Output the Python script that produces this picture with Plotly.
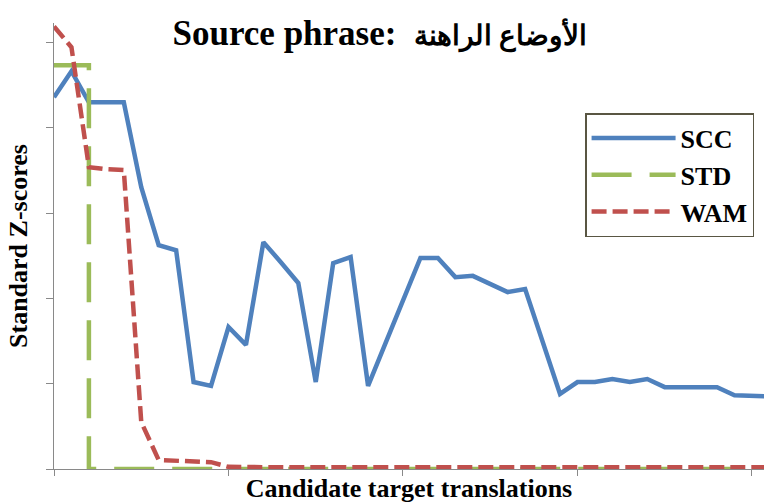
import plotly.graph_objects as go

# Candidate index on the category axis
candidates = list(range(42))

# Standard Z-scores per method
scc = [0.872, 0.933, 0.860, 0.860, 0.860, 0.661, 0.525, 0.513, 0.204, 0.195,
       0.333, 0.291, 0.532, 0.485, 0.436, 0.204, 0.483, 0.497, 0.195, 0.295,
       0.396, 0.495, 0.495, 0.450, 0.453, 0.434, 0.415, 0.422, 0.298, 0.176,
       0.204, 0.204, 0.211, 0.204, 0.211, 0.192, 0.192, 0.192, 0.192, 0.173,
       0.171, 0.170]
std = [0.947, 0.947, 0.947, 0.0, 0.0, 0.0, 0.0, 0.0, 0.0, 0.0,
       0.0, 0.0, 0.0, 0.0, 0.0, 0.0, 0.0, 0.0, 0.0, 0.0,
       0.0, 0.0, 0.0, 0.0, 0.0, 0.0, 0.0, 0.0, 0.0, 0.0,
       0.0, 0.0, 0.0, 0.0, 0.0, 0.0, 0.0, 0.0, 0.0, 0.0,
       0.0, 0.0]
wam = [1.038, 0.989, 0.708, 0.703, 0.701, 0.110, 0.021, 0.019, 0.019, 0.016,
       0.005, 0.004, 0.004, 0.004, 0.004, 0.004, 0.004, 0.004, 0.004, 0.004,
       0.004, 0.004, 0.004, 0.004, 0.004, 0.004, 0.004, 0.004, 0.004, 0.004,
       0.004, 0.004, 0.004, 0.004, 0.004, 0.004, 0.004, 0.004, 0.004, 0.004,
       0.004, 0.004]

x_ticks = [0, 10, 20, 30, 40]
y_ticks = [0.0, 0.2, 0.4, 0.6, 0.8, 1.0]

SERIF = "Liberation Serif, Times New Roman, DejaVu Serif, serif"
AXIS_GREY = "#898989"

title_text = ('Source phrase:\u00a0\u00a0'
              '<span style="font-size:28px">الأوضاع الراهنة</span>')

fig = go.Figure()
fig.add_trace(go.Scatter(
    x=candidates, y=scc, name="SCC", mode="lines", cliponaxis=False,
    line=dict(color="#4F81BD", width=4.5)))
fig.add_trace(go.Scatter(
    x=candidates, y=std, name="STD", mode="lines", cliponaxis=False,
    line=dict(color="#9BBB59", width=4.5, dash="40px,18px", shape="vh")))
fig.add_trace(go.Scatter(
    x=candidates, y=wam, name="WAM", mode="lines", cliponaxis=False,
    line=dict(color="#C0504D", width=4.5, dash="15px,6px")))

axis_common = dict(
    showgrid=False, zeroline=False, showline=True,
    linecolor=AXIS_GREY, linewidth=1.3,
    ticks="outside", tickcolor=AXIS_GREY, tickwidth=1.3,
    showticklabels=False, layer="below traces",
)

fig.update_layout(
    width=764, height=503,
    margin=dict(l=54, r=0, t=23, b=34, autoexpand=False),
    plot_bgcolor="white", paper_bgcolor="white",
    title=dict(
        text=title_text,
        font=dict(family=SERIF, size=35, color="black", weight="bold"),
        x=0.497, xref="container", xanchor="center",
        y=0.935, yref="container", yanchor="middle"),
    xaxis=dict(
        range=[0, 40.69], tickvals=x_ticks, ticklen=6,
        title=dict(text="Candidate target translations", standoff=4,
                   font=dict(family=SERIF, size=26, color="black", weight="bold")),
        **axis_common),
    yaxis=dict(
        range=[0, 1.046], tickvals=y_ticks, ticklen=7,
        title=dict(text="Standard Z-scores", standoff=10,
                   font=dict(family=SERIF, size=26, color="black", weight="bold")),
        **axis_common),
    legend=dict(
        x=0.748, y=0.798, xanchor="left", yanchor="top",
        bgcolor="white", bordercolor="#595643", borderwidth=1.5,
        itemwidth=84,
        font=dict(family=SERIF, size=26, color="black", weight="bold")),
    showlegend=True,
)

fig.write_html("out.html")
